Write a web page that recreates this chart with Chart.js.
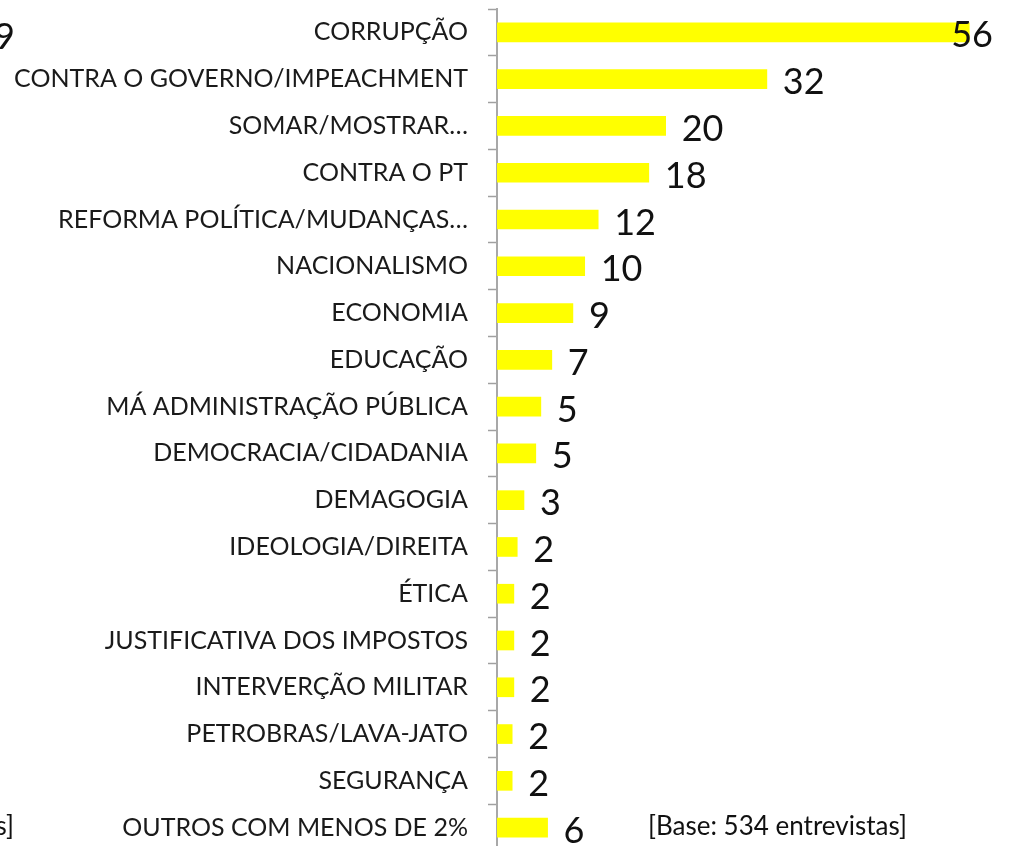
<!DOCTYPE html>
<html>
<head>
<meta charset="utf-8">
<script src="https://cdn.jsdelivr.net/npm/chart.js@4"></script>
<style>
  html, body { margin: 0; padding: 0; background: #fff; overflow: hidden; }
  #wrap { position: relative; width: 1011px; height: 852px; }
</style>
</head>
<body>
<div id="wrap"><canvas id="motivosChart"></canvas></div>
<script>
// categorias (de cima para baixo)
const categorias = [
  'CORRUPÇÃO',
  'CONTRA O GOVERNO/IMPEACHMENT',
  'SOMAR/MOSTRAR…',
  'CONTRA O PT',
  'REFORMA POLÍTICA/MUDANÇAS…',
  'NACIONALISMO',
  'ECONOMIA',
  'EDUCAÇÃO',
  'MÁ ADMINISTRAÇÃO PÚBLICA',
  'DEMOCRACIA/CIDADANIA',
  'DEMAGOGIA',
  'IDEOLOGIA/DIREITA',
  'ÉTICA',
  'JUSTIFICATIVA DOS IMPOSTOS',
  'INTERVERÇÃO MILITAR',
  'PETROBRAS/LAVA-JATO',
  'SEGURANÇA',
  'OUTROS COM MENOS DE 2%'
];
// comprimento das barras (%)
const percentuais = [56, 32, 20, 18, 12, 10.4, 9, 6.5, 5.2, 4.6, 3.2, 2.4, 2.0, 2.0, 2.0, 1.8, 1.8, 6];
// números impressos ao lado das barras
const rotulos = ['56', '32', '20', '18', '12', '10', '9', '7', '5', '5', '3', '2', '2', '2', '2', '2', '2', '6'];
const xMax = 60;

const fonteTexto = 'Lato, "Open Sans", sans-serif';

// rótulos de valor + textos soltos da imagem
const rotulosPlugin = {
  id: 'rotulos',
  afterDatasetsDraw(chart) {
    const c = chart.ctx;
    const meta = chart.getDatasetMeta(0);
    c.save();
    c.fillStyle = '#111';
    c.font = '36px ' + fonteTexto;
    c.textBaseline = 'alphabetic';
    c.textAlign = 'left';
    meta.data.forEach((bar, i) => {
      const txt = rotulos[i];
      const w = c.measureText(txt).width;
      const x = Math.min(bar.x + 16, chart.width - 18 - w);
      c.fillText(txt, x, bar.y + 15);
    });
    // pedaços de outro gráfico cortados na borda
    c.textAlign = 'right';
    c.fillText('9', 15, 49);
    c.font = '26px ' + fonteTexto;
    c.fillText('s]', 14, 835);
    c.textAlign = 'left';
    c.fillText('[Base: 534 entrevistas]', 648, 835);
    c.restore();
  }
};

new Chart(document.getElementById('motivosChart'), {
  type: 'bar',
  data: {
    labels: categorias,
    datasets: [{
      data: percentuais,
      backgroundColor: '#ffff00',
      borderWidth: 0,
      barThickness: 19
    }]
  },
  options: {
    indexAxis: 'y',
    responsive: true,
    maintainAspectRatio: false,
    animation: false,
    layout: { padding: { top: 9, bottom: 1, right: 8, left: 0 } },
    plugins: {
      legend: { display: false },
      tooltip: { enabled: false }
    },
    scales: {
      x: {
        display: false,
        min: 0,
        max: xMax
      },
      y: {
        afterFit(scale) {
          scale.width = 497;
          // sem folga extra em cima/embaixo do eixo
          scale.paddingTop = 0;
          scale.paddingBottom = 0;
        },
        border: { display: true, color: '#a8a8a8', width: 2 },
        grid: {
          offset: true,
          drawOnChartArea: false,
          drawTicks: true,
          tickLength: 9,
          tickWidth: 1.5,
          tickColor: '#a0a0a0'
        },
        ticks: {
          color: '#1a1a1a',
          padding: 20,
          autoSkip: false,
          font: { family: fonteTexto, size: 25 }
        }
      }
    }
  },
  plugins: [rotulosPlugin]
});
</script>
</body>
</html>
